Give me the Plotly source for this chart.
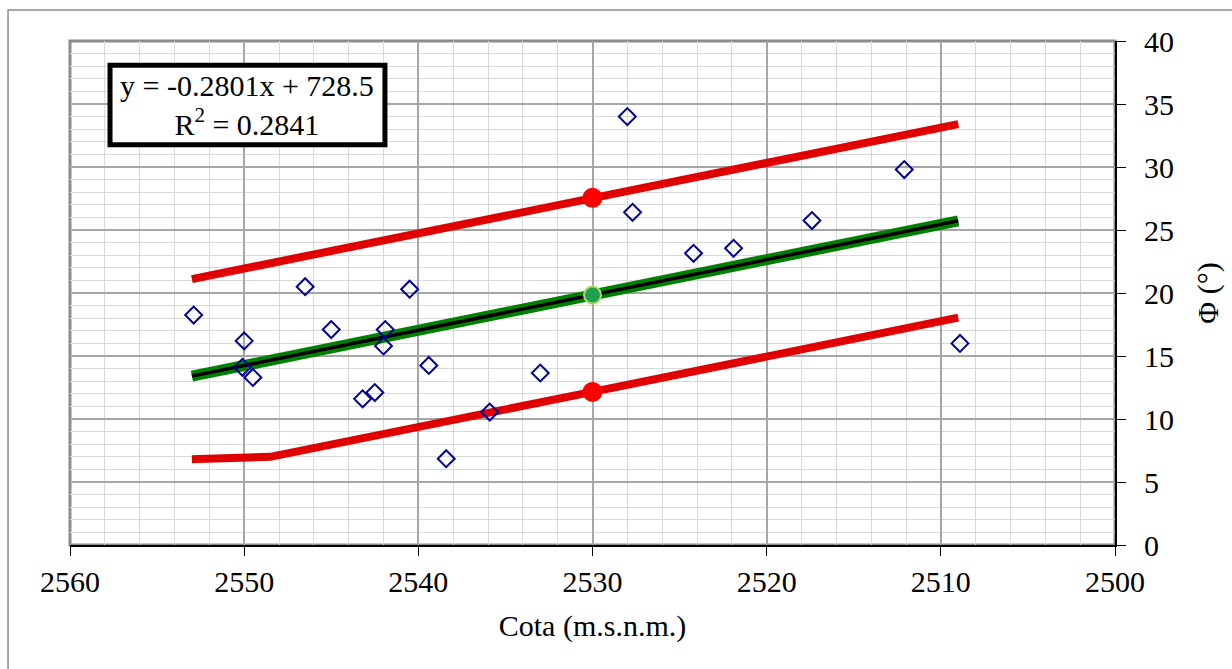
import plotly.graph_objects as go

# ---- data ----
cota = [2552.9, 2550.0, 2550.1, 2549.5, 2546.5, 2545.0, 2543.2, 2542.5, 2541.9, 2542.0,
        2540.5, 2539.4, 2538.4, 2535.9, 2533.0, 2528.0, 2527.7, 2524.2, 2521.9, 2517.4,
        2512.1, 2508.9]
phi = [18.25, 16.2, 14.1, 13.3, 20.5, 17.1, 11.6, 12.1, 17.1, 15.8,
       20.3, 14.25, 6.85, 10.55, 13.65, 34.0, 26.4, 23.15, 23.55, 25.75,
       29.8, 16.0]

trend_x = [2553.0, 2509.0]
slope = -0.2801
intercept = 728.5
trend_y = [slope * v + intercept for v in trend_x]

upper_x = [2553.0, 2530.0, 2509.0]
upper_y = [21.1, 27.55, 33.4]
lower_x = [2553.0, 2548.5, 2530.0, 2509.0]
lower_y = [6.8, 7.0, 12.15, 18.05]

mid_x = [2530.0]
mid_upper = [27.55]
mid_trend = [slope * 2530.0 + intercept]
mid_lower = [12.15]

eq_text = "y = -0.2801x + 728.5<br>R<sup>2</sup> = 0.2841"

FONT = "Liberation Serif"

fig = go.Figure()
fig.add_trace(go.Scatter(x=upper_x, y=upper_y, mode="lines",
                         line=dict(color="#e00000", width=8), showlegend=False))
fig.add_trace(go.Scatter(x=lower_x, y=lower_y, mode="lines",
                         line=dict(color="#e00000", width=8), showlegend=False))
fig.add_trace(go.Scatter(x=trend_x, y=trend_y, mode="lines",
                         line=dict(color="#008000", width=11), showlegend=False))
fig.add_trace(go.Scatter(x=trend_x, y=trend_y, mode="lines",
                         line=dict(color="#000000", width=3.5), showlegend=False))
fig.add_trace(go.Scatter(x=cota, y=phi, mode="markers",
                         marker=dict(symbol="diamond-open", size=13, color="#000099",
                                     line=dict(width=2, color="#000099")),
                         showlegend=False))
fig.add_trace(go.Scatter(x=mid_x + mid_x, y=mid_upper + mid_lower, mode="markers",
                         marker=dict(symbol="circle", size=20, color="#ff0000",
                                     line=dict(width=0)), showlegend=False))
fig.add_trace(go.Scatter(x=mid_x, y=mid_trend, mode="markers",
                         marker=dict(symbol="circle", size=17, color="#1fa050",
                                     line=dict(width=2, color="#a6d96a")), showlegend=False))

fig.update_layout(
    width=1232, height=669,
    margin=dict(l=70, r=117, t=41, b=124),
    paper_bgcolor="white", plot_bgcolor="white",
    font=dict(family=FONT, size=30, color="black"),
    xaxis=dict(
        range=[2560, 2500], dtick=10, tick0=2500,
        showgrid=True, gridcolor="#a6a6a6", gridwidth=1.5,
        minor=dict(dtick=2, showgrid=True, gridcolor="#d9d9d9", gridwidth=1),
        showline=True, linecolor="black", linewidth=2,
        ticks="outside", ticklen=9, tickcolor="black", tickwidth=1,
        zeroline=False, automargin=False,
        title=dict(text="Cota (m.s.n.m.)", font=dict(size=30), standoff=18),
        tickfont=dict(size=30),
    ),
    yaxis=dict(
        range=[0, 40], dtick=5, side="right",
        showgrid=True, gridcolor="#a6a6a6", gridwidth=1.5,
        minor=dict(dtick=1, showgrid=True, gridcolor="#d9d9d9", gridwidth=1),
        showline=True, linecolor="black", linewidth=2,
        ticks="outside", ticklen=9, tickcolor="black", tickwidth=1,
        zeroline=False, automargin=False,
        title=dict(text="Φ (°)", font=dict(size=30), standoff=24),
        tickfont=dict(size=30),
        ticklabelstandoff=12,
    ),
    shapes=[
        # plot area frame (gray top/left)
        dict(type="rect", xref="paper", yref="paper", x0=0, x1=1, y0=0, y1=1,
             line=dict(color="#8c8c8c", width=3), layer="below"),
        # outer chart border
        dict(type="rect", xref="paper", yref="paper", x0=-0.0593, x1=1.3, y0=-0.4, y1=1.0615,
             line=dict(color="#8c8c8c", width=1.5)),
        # equation box
        dict(type="rect", xref="paper", yref="paper", x0=0.0383, x1=0.3014, y0=0.794, y1=0.952,
             line=dict(color="black", width=5), fillcolor="white"),
    ],
    annotations=[
        dict(xref="paper", yref="paper", x=0.1698, y=0.873, text=eq_text,
             showarrow=False, font=dict(size=30, family=FONT), align="center",
             xanchor="center", yanchor="middle"),
    ],
)

fig.write_html("out.html", config={"displayModeBar": False},
               post_script="document.body.style.margin='0';document.body.style.overflow='hidden';")
